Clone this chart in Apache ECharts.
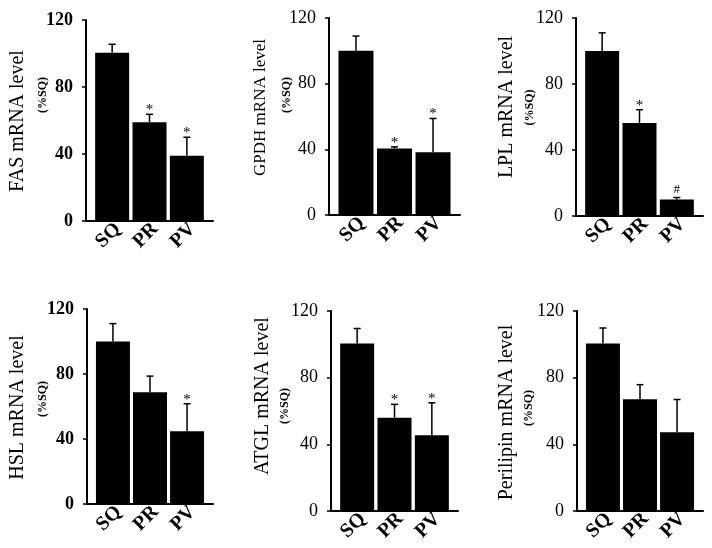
<!DOCTYPE html>
<html><head><meta charset="utf-8">
<script src="https://cdn.jsdelivr.net/npm/echarts@6/dist/echarts.min.js"></script>
<style>html,body{margin:0;padding:0;background:#fff}#c{width:712px;height:548px}</style>
</head><body><div id="c"></div>
<script>
const categories = ['SQ', 'PR', 'PV'];
const yTicks = [0, 40, 80, 120];

const fasMean = [100.5, 59, 39];
const fasErr = [5, 4.7, 11];
const fasSig = ['', '*', '*'];

const gpdhMean = [100, 40.5, 38.2];
const gpdhErr = [9, 1, 20.6];
const gpdhSig = ['', '*', '*'];

const lplMean = [100, 56.4, 10];
const lplErr = [11, 8, 1.2];
const lplSig = ['', '*', '#'];

const hslMean = [100, 68.7, 44.7];
const hslErr = [11, 10, 17];
const hslSig = ['', '', '*'];

const atglMean = [100.5, 56, 45.5];
const atglErr = [9, 8, 19.4];
const atglSig = ['', '*', '*'];

const perMean = [100.5, 67.1, 47.2];
const perErr = [9.3, 8.7, 19.7];
const perSig = ['', '', ''];

const titles = ['FAS mRNA level', 'GPDH mRNA level', 'LPL mRNA level', 'HSL mRNA level', 'ATGL mRNA level', 'Perilipin mRNA level'];
const unitLabel = '(%SQ)';

const panels = [
  {mean: fasMean, err: fasErr, sig: fasSig},
  {mean: gpdhMean, err: gpdhErr, sig: gpdhSig},
  {mean: lplMean, err: lplErr, sig: lplSig},
  {mean: hslMean, err: hslErr, sig: hslSig},
  {mean: atglMean, err: atglErr, sig: atglSig},
  {mean: perMean, err: perErr, sig: perSig}
];

// layout (pixels)
const layout = [
  {left: 86, top: 20, width: 127, height: 201, t1: [17.5, 121], t2: [43, 95], tsize: 20, bold: true},
  {left: 329, top: 18, width: 131, height: 197, t1: [260.5, 107.5], t2: [287, 95], tsize: 17, bold: false},
  {left: 576, top: 18, width: 127, height: 198, t1: [507, 107], t2: [530, 107.5], tsize: 20, bold: false},
  {left: 87, top: 309, width: 126, height: 195, t1: [17.5, 407.5], t2: [42.5, 399], tsize: 20, bold: true},
  {left: 331, top: 311, width: 127, height: 200, t1: [262.5, 396], t2: [284.5, 406], tsize: 20, bold: false},
  {left: 577, top: 311, width: 126, height: 200, t1: [506.5, 412.5], t2: [529, 408], tsize: 20, bold: false}
];
const labelShift = 0.15; // rotated category labels sit slightly right of bar centres

const FONT = '"Liberation Serif", "Times New Roman", serif';

const grid = [], xAxis = [], yAxis = [], series = [], graphic = [];
panels.forEach((p, i) => {
  const L = layout[i];
  grid.push({left: L.left, top: L.top, width: L.width, height: L.height, containLabel: false});
  xAxis.push({
    type: 'value', gridIndex: i, min: 0.3, max: 3.7,
    axisLine: {show: true, onZero: false, lineStyle: {color: '#000', width: 2}},
    axisTick: {show: false},
    splitLine: {show: false},
    axisLabel: {
      customValues: categories.map((c, k) => k + 1 + labelShift),
      rotate: 45, margin: 5,
      fontFamily: FONT, fontSize: 20, fontWeight: 'bold', color: '#000',
      formatter: v => categories[Math.round(v) - 1] || ''
    }
  });
  yAxis.push({
    type: 'value', gridIndex: i, min: yTicks[0], max: yTicks[yTicks.length - 1], interval: 40,
    axisLine: {show: true, lineStyle: {color: '#000', width: 2}},
    axisTick: {show: true, length: 4, lineStyle: {color: '#000', width: 1.5}},
    splitLine: {show: false},
    axisLabel: {margin: 13, fontFamily: FONT, fontSize: 18, fontWeight: L.bold ? 'bold' : 'normal', color: '#000'}
  });
  series.push({
    type: 'bar', xAxisIndex: i, yAxisIndex: i, barWidth: i === 1 ? 35 : 34,
    itemStyle: {color: '#000'},
    data: p.mean.map((m, k) => [k + 1, m]),
    animation: false
  });
  const sig = p.sig;
  series.push({
    type: 'custom', xAxisIndex: i, yAxisIndex: i, clip: false, z: 5,
    data: p.mean.map((m, k) => [k + 1, m, m + p.err[k]]),
    renderItem: function (params, api) {
      const x = api.value(0);
      const base = api.coord([x, api.value(1)]);
      const top = api.coord([x, api.value(2)]);
      const s = sig[params.dataIndex];
      const children = [
        {type: 'line', shape: {x1: base[0], y1: base[1], x2: top[0], y2: top[1]}, style: {stroke: '#000', lineWidth: 1.5}},
        {type: 'line', shape: {x1: top[0] - 3.5, y1: top[1], x2: top[0] + 3.5, y2: top[1]}, style: {stroke: '#000', lineWidth: 1.5}}
      ];
      if (s) {
        children.push({
          type: 'text', x: top[0], y: top[1] - (s === '#' ? 8 : 4),
          style: {text: s, align: 'center', verticalAlign: 'middle', font: (s === '#' ? '13px ' : '15px ') + FONT, fill: '#000'}
        });
      }
      return {type: 'group', children};
    },
    animation: false
  });
  graphic.push({
    type: 'text', x: L.t1[0], y: L.t1[1], rotation: Math.PI / 2,
    style: {text: titles[i], align: 'center', verticalAlign: 'middle', font: L.tsize + 'px ' + FONT, fill: '#000'}
  });
  graphic.push({
    type: 'text', x: L.t2[0], y: L.t2[1], rotation: Math.PI / 2,
    style: {text: unitLabel, align: 'center', verticalAlign: 'middle', font: 'bold 12px ' + FONT, fill: '#000'}
  });
});

const chart = echarts.init(document.getElementById('c'), null, {renderer: 'canvas'});
chart.setOption({animation: false, backgroundColor: '#fff', grid, xAxis, yAxis, series, graphic});
</script>
</body></html>
